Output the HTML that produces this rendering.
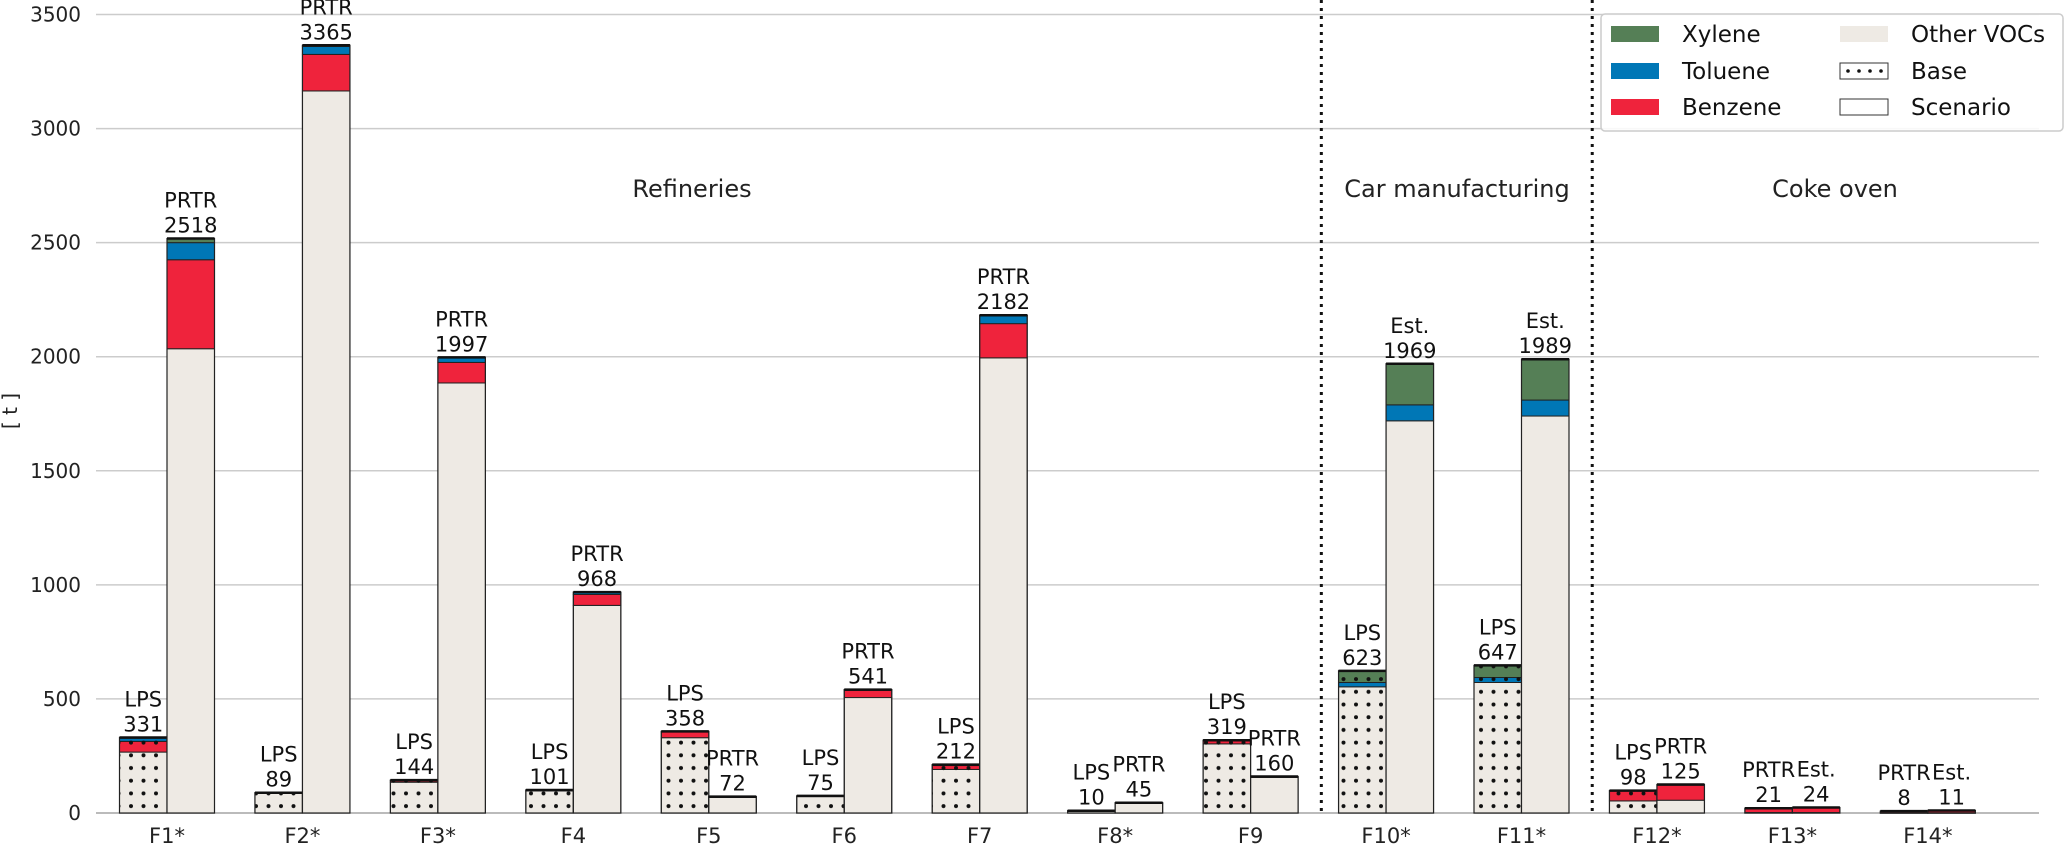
<!DOCTYPE html>
<html><head><meta charset="utf-8"><style>
html,body{margin:0;padding:0;background:#fff;}
svg{display:block;font-family:"DejaVu Sans","Liberation Sans",sans-serif;}
</style></head><body>
<svg id="chart" width="2067" height="845" viewBox="0 0 2067 845" xmlns="http://www.w3.org/2000/svg">
<defs>
<pattern id="dots" patternUnits="userSpaceOnUse" width="12.5" height="12.7" x="3" y="0">
<circle cx="3" cy="6" r="2" fill="#111"/>
</pattern>
</defs>
<g id="grid"></g>
<g id="bars"></g>
<g id="labels"></g>
</svg>
<script>
const facilities = ["F1*","F2*","F3*","F4","F5","F6","F7","F8*","F9","F10*","F11*","F12*","F13*","F14*"];
const baseOther   = [267,86,135,97,330,72,191,8,303,553,572,53,2,1];
const baseBenzene = [47,3,7,4,25,3,17,2,13,0,0,45,19,7];
const baseToluene = [14,0,2,0,3,0,4,0,3,19,22,0,0,0];
const baseXylene  = [3,0,0,0,0,0,0,0,0,51,53,0,0,0];
const scenOther   = [2035,3165,1885,910,68,506,1995,42,156,1719,1740,56,2,1];
const scenBenzene = [390,160,90,48,4,32,150,3,4,0,0,66,22,10];
const scenToluene = [75,35,20,10,0,3,35,0,0,70,70,3,0,0];
const scenXylene  = [18,5,2,0,0,0,2,0,0,180,179,0,0,0];
const baseTotals  = [331,89,144,101,358,75,212,10,319,623,647,98,21,8];
const scenTotals  = [2518,3365,1997,968,72,541,2182,45,160,1969,1989,125,24,11];
const baseNames   = ["LPS","LPS","LPS","LPS","LPS","LPS","LPS","LPS","LPS","LPS","LPS","LPS","PRTR","PRTR"];
const scenNames   = ["PRTR","PRTR","PRTR","PRTR","PRTR","PRTR","PRTR","PRTR","PRTR","Est.","Est.","PRTR","Est.","Est."];
const yTicks = [0,500,1000,1500,2000,2500,3000,3500];
const sectors = ["Refineries","Car manufacturing","Coke oven"];

const NS="http://www.w3.org/2000/svg";
const y0=813, pxPerT=(813-14.5)/3500;
const yScale=v=>y0-v*pxPerT;
const xCenter=i=>167+135.45*i;
const bw=47.5;
const colors={other:"#eeeae4",benzene:"#ef233c",toluene:"#0077b6",xylene:"#557f56"};
function mk(tag,attrs,parent){const e=document.createElementNS(NS,tag);for(const k in attrs)e.setAttribute(k,attrs[k]);parent.appendChild(e);return e;}
const grid=document.getElementById('grid'),bars=document.getElementById('bars'),labels=document.getElementById('labels');

yTicks.forEach(t=>{
  const y=yScale(t);
  const l=mk('line',{x1:96,x2:2039,y1:y,y2:y,stroke:t===0?'#bbb':'#cccccc','stroke-width':t===0?2:1.5},grid);
  
  
  const tx=mk('text',{x:81,y:y+7,'text-anchor':'end','font-size':20,fill:'#222'},labels);
  tx.textContent=t;
  
  
});
const yt=mk('text',{x:17,y:411,'text-anchor':'middle','font-size':20,fill:'#222',transform:'rotate(-90 17 411)'},labels);
yt.textContent='[ t ]';



[ (xCenter(8)+xCenter(9))/2+3, (xCenter(10)+xCenter(11))/2+3 ].forEach((x,k)=>{
  const l=mk('line',{x1:x,x2:x,y1:0,y2:813,stroke:'#111','stroke-width':3,'stroke-dasharray':'3 5'},grid);
  
  
});
const secX=[692,1457,1835];
sectors.forEach((s,k)=>{
  const t=mk('text',{x:secX[k],y:197,'text-anchor':'middle','font-size':24,fill:'#222'},labels);
  t.textContent=s;
  
  
});

function stack(x,vals,hatch,name){
  const g=mk('g',{},bars);
  
  
  let acc=0;
  const keys=['other','benzene','toluene','xylene'];
  vals.forEach((v,k)=>{
    if(v<=0)return;
    const yt=yScale(acc+v),yb=yScale(acc);
    const r=mk('rect',{x:x,y:yt,width:bw,height:Math.max(yb-yt,0.5),fill:colors[keys[k]],stroke:'#222','stroke-width':1},g);
    
    
    acc+=v;
  });
  if(hatch){
    const h=mk('rect',{x:x,y:yScale(acc),width:bw,height:y0-yScale(acc),fill:'url(#dots)',stroke:'none'},g);
    
    
  }
  const o=mk('rect',{x:x,y:yScale(acc),width:bw,height:y0-yScale(acc),fill:'none',stroke:'#222','stroke-width':1.2},g);
  
  
  const tl=mk('line',{x1:x,x2:x+bw,y1:yScale(acc),y2:yScale(acc),stroke:'#111','stroke-width':2.5},g);
  
  
  return acc;
}
function lab(cx,top,l1,l2,name){
  const t1=mk('text',{x:cx,y:top-31,'text-anchor':'middle','font-size':21,fill:'#111'},labels);
  t1.textContent=l1;
  
  
  const t2=mk('text',{x:cx,y:top-6,'text-anchor':'middle','font-size':21,fill:'#111'},labels);
  t2.textContent=l2;
  
  
}
facilities.forEach((f,i)=>{
  const c=xCenter(i);
  const bx=c-bw, sx=c;
  const id=f.replace('*','').toLowerCase();
  const ba=stack(bx,[baseOther[i],baseBenzene[i],baseToluene[i],baseXylene[i]],true,'bar-'+id+'-base');
  const sa=stack(sx,[scenOther[i],scenBenzene[i],scenToluene[i],scenXylene[i]],false,'bar-'+id+'-scenario');
  lab(bx+bw/2,yScale(ba),baseNames[i],baseTotals[i],'label-'+id+'-base');
  lab(sx+bw/2,yScale(sa),scenNames[i],scenTotals[i],'label-'+id+'-scenario');
  const t=mk('text',{x:c,y:843,'text-anchor':'middle','font-size':21,fill:'#222'},labels);
  t.textContent=f;
  
  
});

const lg=mk('g',{},labels);


const lb=mk('rect',{x:1601,y:14,width:462,height:117,rx:4,fill:'#fff','fill-opacity':0.85,stroke:'#ccc','stroke-width':1.5},lg);


const legItems=[["Xylene",colors.xylene,1611,34,false],["Toluene",colors.toluene,1611,71,false],["Benzene",colors.benzene,1611,107,false],
 ["Other VOCs",colors.other,1840,34,false],["Base","#fff",1840,71,true],["Scenario","#fff",1840,107,false]];
legItems.forEach(it=>{
  const [n,c,x,y,h]=it;
  const g=mk('g',{},lg);
  
  
  const stroke=(n==='Base'||n==='Scenario')?'#333':'none';
  mk('rect',{x:x,y:y-8,width:48,height:16,fill:c,stroke:stroke,'stroke-width':1},g);
  if(h){for(let k=0;k<4;k++)mk('circle',{cx:x+8+k*11,cy:y,r:1.8,fill:'#111'},g);}
  const t=mk('text',{x:x+71,y:y+8,'font-size':23,fill:'#111'},g);
  t.textContent=n;
});
</script>
</body></html>
